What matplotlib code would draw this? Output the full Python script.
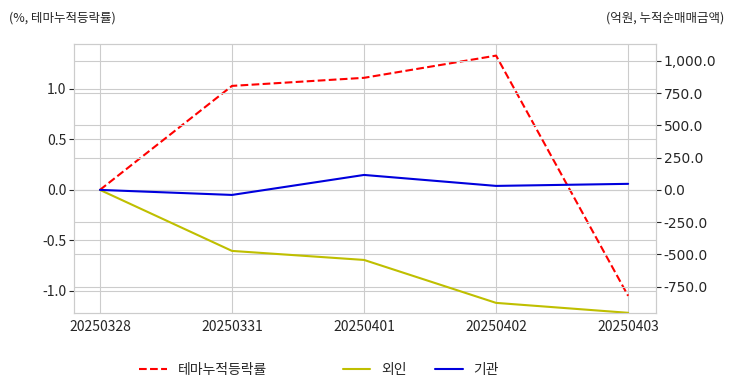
import matplotlib
matplotlib.use("Agg")
import matplotlib.pyplot as plt
import seaborn as sns
from matplotlib.ticker import FuncFormatter

dates = ["20250328", "20250331", "20250401", "20250402", "20250403"]
theme_ret = [0.0, 1.03, 1.11, 1.33, -1.05]       # %, 테마누적등락률
foreign = [0.0, -473.0, -543.0, -876.0, -953.0]  # 억원, 외인
inst = [0.0, -39.0, 116.0, 31.0, 47.0]           # 억원, 기관

sns.set_style("whitegrid")
plt.rcParams['font.family'] = ['Noto Sans CJK KR', 'DejaVu Sans']
plt.rcParams['axes.unicode_minus'] = False

fig, ax1 = plt.subplots(figsize=(7.32, 3.92), dpi=100)
fig.subplots_adjust(left=0.101, right=0.896, top=0.888, bottom=0.202)

x = list(range(len(dates)))
l1, = ax1.plot(x, theme_ret, color="red", linestyle="--", linewidth=1.5, label="테마누적등락률")
ax1.set_ylim(-1.218, 1.446)
ax1.set_xlim(-0.197, 4.21)
ax1.set_yticks([-1.0, -0.5, 0.0, 0.5, 1.0])
ax1.yaxis.set_major_formatter(FuncFormatter(lambda v, p: f"{v:.1f}"))
ax1.set_xticks(x)
ax1.set_xticklabels(dates)
ax1.tick_params(labelsize=10, colors="#262626", pad=2)

ax2 = ax1.twinx()
l2, = ax2.plot(x, foreign, color="#bfbf00", linewidth=1.5, label="외인")
l3, = ax2.plot(x, inst, color="#0000dd", linewidth=1.5, label="기관")
ax2.set_ylim(-953, 1132)
ax2.set_yticks([-750, -500, -250, 0, 250, 500, 750, 1000])
ax2.yaxis.set_major_formatter(FuncFormatter(lambda v, p: f"{v:,.1f}"))
ax2.tick_params(labelsize=10, colors="#262626", pad=2)
for t in ax2.get_yticklabels():
    t.set_fontfamily("DejaVu Sans")

for ax in (ax1, ax2):
    for s in ax.spines.values():
        s.set_color("#cccccc")

fig.text(0.012, 0.955, "(%, 테마누적등락률)", fontsize=9, color="#262626", ha="left", va="center")
fig.text(0.99, 0.955, "(억원, 누적순매매금액)", fontsize=9, color="#262626", ha="right", va="center")

fig.legend(handles=[l1], loc="center", bbox_to_anchor=(0.278, 0.056), frameon=False, fontsize=10)
fig.legend(handles=[l2, l3], loc="center", bbox_to_anchor=(0.575, 0.056), ncol=2, frameon=False, fontsize=10)

fig.savefig("out.png", dpi=100)
